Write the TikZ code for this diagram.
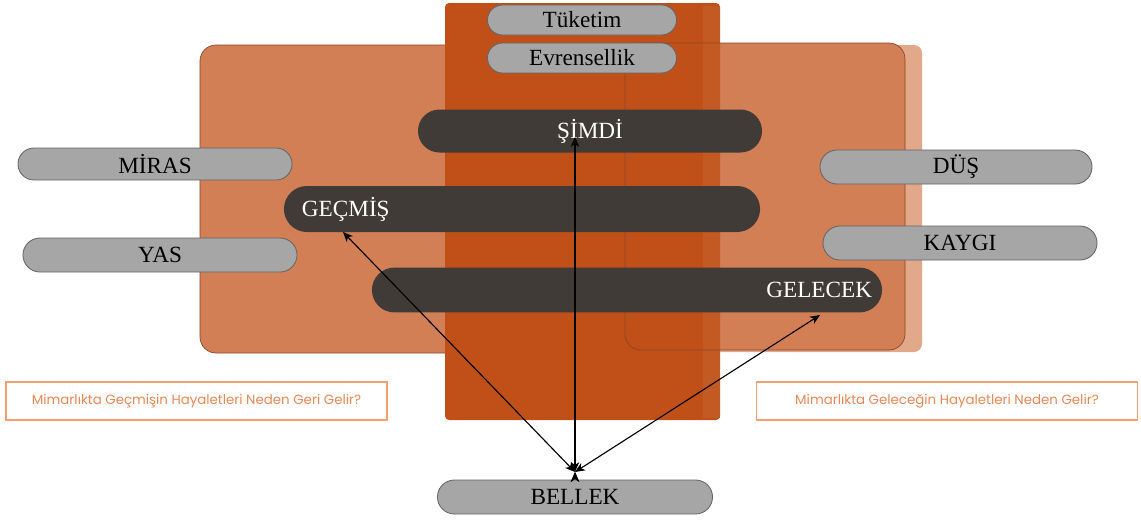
\documentclass[tikz,border=0pt]{standalone}
\usepackage{fontspec}
\setmainfont{Liberation Serif}
\newfontfamily\questionfont{Poppins}
\usetikzlibrary{shapes.misc,arrows.meta}
\definecolor{softrust}{RGB}{210,127,86}
\definecolor{palerust}{RGB}{226,168,138}
\definecolor{deeprust}{RGB}{192,80,24}
\definecolor{rustline}{RGB}{140,70,40}
\definecolor{pillgray}{RGB}{166,166,166}
\definecolor{pillline}{RGB}{100,100,100}
\definecolor{darkpill}{RGB}{64,59,54}
\definecolor{questionline}{RGB}{244,160,115}
\definecolor{questiontext}{RGB}{232,135,85}
\tikzset{gray node/.style={rounded rectangle,fill=pillgray,draw=pillline,line width=0.6pt,minimum width=6.85cm,minimum height=0.85cm,inner sep=0pt,font=\fontsize{16.5}{18}\selectfont},
dark node/.style={rounded rectangle,fill=darkpill,minimum height=1.12cm,inner sep=0pt,text=white,font=\fontsize{16.5}{18}\selectfont},
question node/.style={rectangle,draw=questionline,line width=0.8pt,text=questiontext,minimum width=9.525cm,minimum height=0.95cm,font=\questionfont\fontsize{9.5}{11}\selectfont},}

\begin{document}
\begin{tikzpicture}[x=0.025cm,y=-0.025cm]
  \useasboundingbox (0,0) rectangle (1141,522);
  %% Background panels
  \fill[palerust,rounded corners=0.2cm] (700,45) rectangle (922,352);
  \filldraw[fill=softrust,draw=rustline,line width=0.5pt,rounded corners=0.4cm] (200,45) rectangle (720,353);
  \fill[softrust,rounded corners=0.4cm] (625,43) rectangle (905,350);
  \fill[deeprust,rounded corners=0.1cm] (445,3) rectangle (720,420);
  \fill[deeprust!95!white] (703,6) rectangle (720,418);
  \draw[rustline,line width=0.5pt,rounded corners=0.4cm] (625,43) rectangle (905,350);
  %% Nodes
  \node[gray node,minimum width=4.725cm,minimum height=0.75cm] (tuketim) at (582,20) {Tüketim};
  \node[gray node,minimum width=4.725cm,minimum height=0.75cm] (evrensellik) at (582,58) {Evrensellik};
  \node[gray node,minimum height=0.8cm] (miras) at (155,164) {MİRAS};
  \node[gray node] (yas) at (160,255) {YAS};
  \node[gray node,minimum width=6.8cm] (dus) at (956,167) {DÜŞ};
  \node[gray node] (kaygi) at (960,243) {KAYGI};
  \node[gray node,minimum width=6.875cm] (bellek) at (575,497) {BELLEK};
  \node[dark node,minimum width=8.6cm,minimum height=1.075cm] (simdi) at (590,131) {ŞİMDİ};
  \node[dark node,minimum width=11.9cm,minimum height=1.15cm] (gecmis) at (522,209) {};
  \node[dark node,minimum width=12.75cm] (gelecek) at (627,290) {};
  \node[text=white,font=\fontsize{16.5}{18}\selectfont,anchor=west] (gecmis text) at (297,209) {GEÇMİŞ};
  \node[text=white,font=\fontsize{16.5}{18}\selectfont,anchor=east] (gelecek text) at (877,290) {GELECEK};
  \node[question node] (past question) at (196.5,401) {Mimarlıkta Geçmişin Hayaletleri Neden Geri Gelir?};
  \node[question node] (future question) at (947,401) {Mimarlıkta Geleceğin Hayaletleri Neden Gelir?};
  %% Arrow ends
  \coordinate (bellek top) at (575,472);
  \coordinate (gecmis end) at (343,232);
  \coordinate (simdi end) at (575,137);
  \coordinate (gelecek end) at (820,315);
  %% Paths
  \path[draw,line width=0.8pt,{Stealth[length=7pt,width=6pt,inset=2pt]}-{Stealth[length=7pt,width=6pt,inset=2pt]}]
    (bellek top) edge node {} (gecmis end)
    (bellek top) edge node {} (simdi end)
    (bellek top) edge node {} (gelecek end);
\end{tikzpicture}
\end{document}
